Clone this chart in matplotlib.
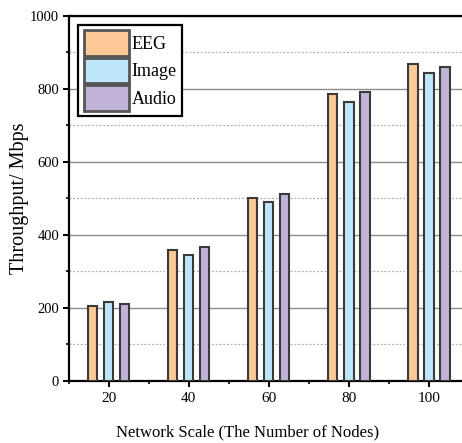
import numpy as np
import matplotlib.pyplot as plt
from matplotlib.ticker import MultipleLocator

# data
nodes = [20, 40, 60, 80, 100]
eeg = [205, 360, 502, 785, 868]
image = [216, 345, 491, 765, 845]
audio = [210, 368, 511, 792, 859]

series = [("EEG", eeg, "#FDC996"), ("Image", image, "#BEE6FB"), ("Audio", audio, "#C2B2D8")]

plt.rcParams["font.family"] = ["Liberation Serif", "DejaVu Serif"]

fig = plt.figure(figsize=(4.62, 4.43), dpi=100)
ax = fig.add_axes([0.149, 0.14, 0.866, 0.824])

x = np.array(nodes, dtype=float)
width = 2.3
for i, (name, vals, col) in enumerate(series):
    ax.bar(x + (i - 1) * 4, vals, width, color=col, edgecolor="#3a3a3a",
           linewidth=1.5, label=name, zorder=3)

ax.set_xlim(10, 110)
ax.set_ylim(0, 1000)
ax.xaxis.set_major_locator(MultipleLocator(20))
ax.xaxis.set_minor_locator(MultipleLocator(10))
ax.yaxis.set_major_locator(MultipleLocator(200))
ax.yaxis.set_minor_locator(MultipleLocator(100))

ax.grid(which="major", axis="y", color="#8c8c8c", linewidth=1.0, zorder=0)
ax.grid(which="minor", axis="y", color="#b0b0b0", linewidth=0.9, linestyle=(0, (1.5, 1.5)), zorder=0)

for s in ["left", "bottom", "top"]:
    ax.spines[s].set_linewidth(1.6)
    ax.spines[s].set_color("black")
ax.spines["right"].set_visible(False)

ax.tick_params(which="major", direction="out", length=4, width=1.4, pad=4)
ax.tick_params(which="minor", direction="out", length=2, width=1.2)
ax.tick_params(axis="x", labelsize=11)
ax.tick_params(axis="y", labelsize=10.5, pad=3)
ax.tick_params(top=False, right=False)

ax.set_ylabel("Throughput/ Mbps", fontsize=14.5)
ax.yaxis.set_label_coords(-0.1, 0.5)
ax.set_xlabel("Network Scale (The Number of Nodes)", fontsize=12)
ax.xaxis.set_label_coords(0.4475, -0.12)

leg = ax.legend(loc="upper left", bbox_to_anchor=(0.01, 0.99), fontsize=13,
                handlelength=2.5, handleheight=1.8, handletextpad=0.15,
                labelspacing=0.1, borderpad=0.3, borderaxespad=0.3,
                fancybox=False, framealpha=1)
leg.get_frame().set_edgecolor("black")
leg.get_frame().set_linewidth(1.6)
for p in leg.get_patches():
    p.set_linewidth(2.0)
    p.set_edgecolor("#555555")

fig.savefig("out.png", dpi=100)
